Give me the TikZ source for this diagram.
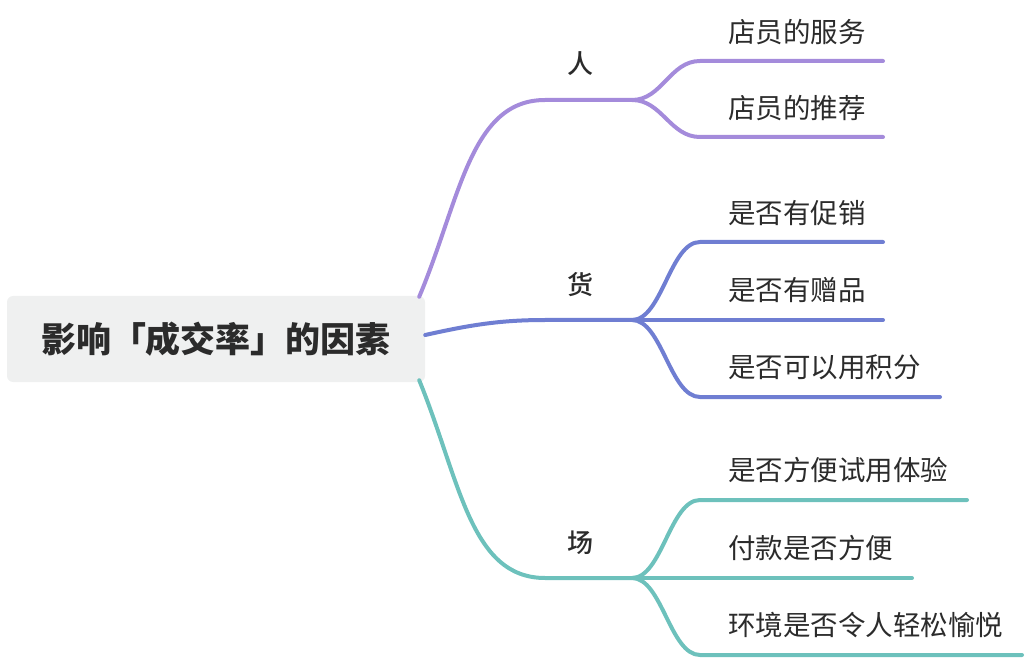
\documentclass[tikz,border=0pt]{standalone}
\usepackage{fontspec}
\setmainfont{Noto Sans CJK SC}
\newfontfamily\mediumcjk{Noto Sans CJK SC}[UprightFont={* Medium}]
\definecolor{renpurple}{HTML}{A48BDB}
\definecolor{huoblue}{HTML}{6F7ED2}
\definecolor{changteal}{HTML}{6DC1BC}
\definecolor{rootgray}{HTML}{EFF0F0}
\definecolor{textdark}{HTML}{2B2B2B}

\begin{document}
\begin{tikzpicture}[x=1pt, y=-1pt]
  % Define box, label and line styles
  \tikzstyle{rootbox} = [fill=rootgray, rectangle, rounded corners=6pt,
  minimum width=418pt, minimum height=86pt, text=textdark,
  font=\fontsize{35}{40}\selectfont\bfseries]
  \tikzstyle{branchlabel} = [text=textdark, font=\fontsize{26}{30}\selectfont\mediumcjk]
  \tikzstyle{leaflabel} = [anchor=west, inner sep=0pt, text=textdark,
  font=\fontsize{27.5}{32}\selectfont]
  \tikzstyle{branchline} = [line width=4pt, line cap=round]

  \useasboundingbox (0,0) rectangle (1028,660);

  \node [rootbox] (root) at (216,339) {影响「成交率」的因素};

  \node [branchlabel] (ren) at (580,64) {人};
  \node [branchlabel] (huo) at (580,285) {货};
  \node [branchlabel] (chang) at (580,543) {场};

  % forks and line ends
  \coordinate (renfork) at (632,100);
  \coordinate (huofork) at (632,320);
  \coordinate (changfork) at (632,578);
  \coordinate (fuwuend) at (883,61);
  \coordinate (tuijianend) at (883,137);
  \coordinate (cuxiaoend) at (883,242);
  \coordinate (zengpinend) at (883,320);
  \coordinate (jifenend) at (940,397);
  \coordinate (shiyongend) at (967,500);
  \coordinate (fukuanend) at (912,578);
  \coordinate (huanjingend) at (1022,655);

  % main branches
  \draw [branchline, renpurple] ([xshift=-6pt,yshift=-1pt]root.north east)
  .. controls (460,200) and (470,100) .. (545,100) -- (renfork);
  \draw [branchline, huoblue] ([yshift=4pt]root.east)
  .. controls (470,325) and (500,320) .. (545,320) -- (huofork);
  \draw [branchline, changteal] ([xshift=-6pt,yshift=2pt]root.south east)
  .. controls (460,480) and (470,578) .. (545,578) -- (changfork);

  % leaves
  \draw [branchline, renpurple] (renfork) .. controls +(30,0) and +(-30,0) .. (700,61) -- (fuwuend);
  \draw [branchline, renpurple] (renfork) .. controls +(30,0) and +(-30,0) .. (700,137) -- (tuijianend);
  \draw [branchline, huoblue] (huofork) .. controls +(30,0) and +(-30,0) .. (700,242) -- (cuxiaoend);
  \draw [branchline, huoblue] (huofork) -- (zengpinend);
  \draw [branchline, huoblue] (huofork) .. controls +(30,0) and +(-30,0) .. (700,397) -- (jifenend);
  \draw [branchline, changteal] (changfork) .. controls +(30,0) and +(-30,0) .. (700,500) -- (shiyongend);
  \draw [branchline, changteal] (changfork) -- (fukuanend);
  \draw [branchline, changteal] (changfork) .. controls +(30,0) and +(-30,0) .. (700,655) -- (huanjingend);

  \node [leaflabel] (fuwu) at (728,32) {店员的服务};
  \node [leaflabel] (tuijian) at (728,108) {店员的推荐};
  \node [leaflabel] (cuxiao) at (728,213) {是否有促销};
  \node [leaflabel] (zengpin) at (728,290) {是否有赠品};
  \node [leaflabel] (jifen) at (728,367) {是否可以用积分};
  \node [leaflabel] (shiyong) at (728,470) {是否方便试用体验};
  \node [leaflabel] (fukuan) at (728,548) {付款是否方便};
  \node [leaflabel] (huanjing) at (728,625) {环境是否令人轻松愉悦};
\end{tikzpicture}
\end{document}
